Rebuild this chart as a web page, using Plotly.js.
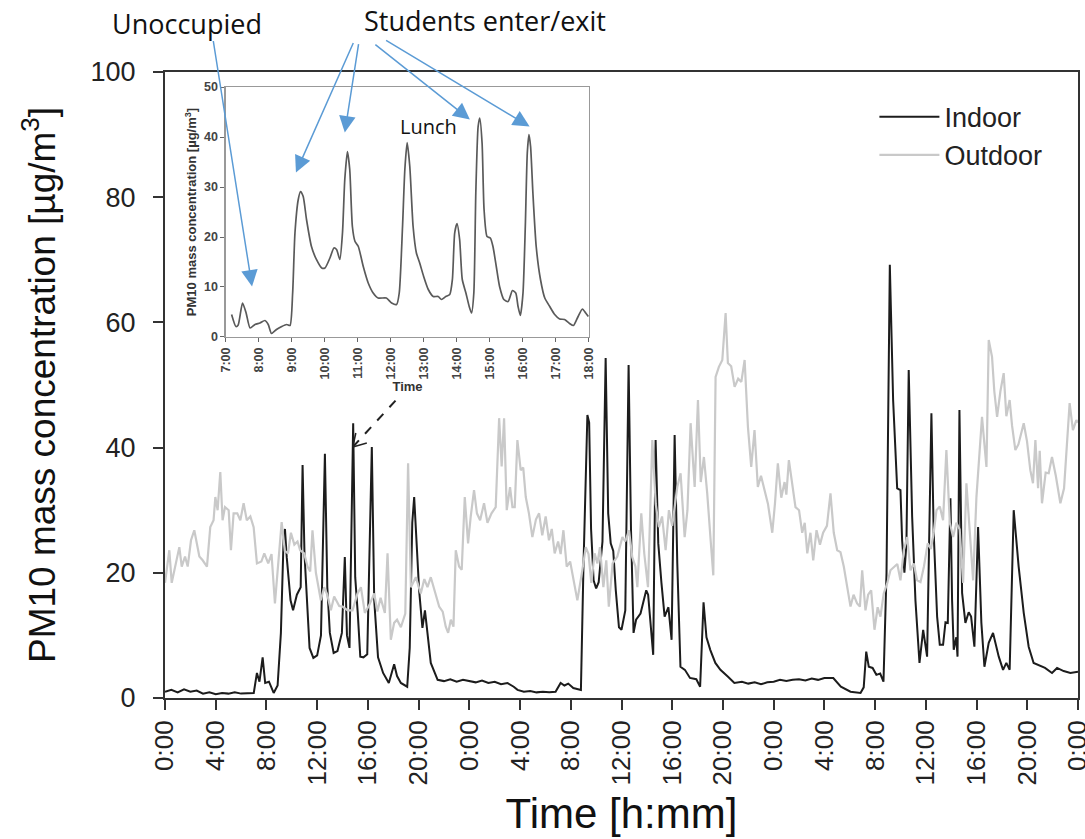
<!DOCTYPE html>
<html>
<head>
<meta charset="utf-8">
<script src="https://cdn.plot.ly/plotly-3.0.1.min.js"></script>
<style>html,body{margin:0;padding:0;background:#fff;}#chart{width:1085px;height:839px;}</style>
</head>
<body>
<div id="chart"></div>
<script>
// ---------- Main chart: three days of PM10 (hours since first midnight) ----------
const indoorHours = [0,0.5,1,1.5,2,2.5,3,3.5,4,4.5,5,5.5,6,6.5,7,7.25,7.45,7.7,7.9,8.2,8.57,8.88,9.14,9.35,9.46,9.6,9.9,10.1,10.4,10.7,10.85,11,11.2,11.4,11.7,12,12.3,12.61,12.8,13,13.3,13.6,13.95,14.18,14.35,14.55,14.84,15,15.2,15.4,15.65,15.95,16.31,16.5,16.8,17.2,17.65,18.07,18.3,18.6,19.1,19.3,19.5,19.65,20.04,20.3,20.5,20.7,20.96,21.5,22,22.5,23,23.5,24,24.5,25,25.5,26,26.5,27,27.5,27.8,28.3,28.8,29.3,29.8,30.3,30.8,31.2,31.5,31.8,32.2,32.8,33,33.31,33.45,33.6,33.8,34,34.2,34.5,34.75,34.95,35.15,35.35,35.55,35.8,36,36.3,36.56,36.75,36.95,37.15,37.5,37.75,37.95,38.1,38.3,38.5,38.69,38.9,39.15,39.4,39.7,39.95,40.19,40.4,40.65,41,41.4,41.9,42.2,42.47,42.7,43,43.4,43.8,44.4,44.9,45.5,46,46.5,47,47.5,48,48.5,49,49.5,50,50.5,51,51.5,52,52.7,53.3,54.06,54.85,55.1,55.3,55.5,55.8,56.1,56.4,56.66,56.9,57.16,57.42,57.74,58,58.13,58.31,58.47,58.65,58.92,59.18,59.5,59.79,60.1,60.44,60.62,60.89,61.1,61.36,61.55,61.73,61.94,62.07,62.2,62.4,62.5,62.65,62.86,63.12,63.38,63.57,63.83,64.12,64.38,64.62,64.96,65.3,65.75,66.09,66.35,66.61,66.93,67.32,67.72,68.11,68.5,68.9,69.4,69.95,70.35,70.87,71.4,72];
const indoorPM10 = [1.0,1.3,0.9,1.4,1.0,1.2,0.7,0.9,0.6,0.8,0.7,0.9,0.7,0.8,0.8,4.0,2.6,6.5,2.4,2.6,0.8,2.0,10.4,25.2,27.0,22.5,15.6,14.0,16.5,17.7,37.2,23,15.6,8.0,6.4,6.8,10,39.0,17.7,10.4,7.2,7.5,10.4,22.5,10,8.0,43.9,19.3,13.6,6.6,6.5,7.0,40.1,15.6,6.5,4.0,2.4,5.4,3.5,2.4,1.8,8,28,32.1,17.2,11.2,14.0,10.4,5.6,2.9,2.7,3.0,2.6,2.9,2.7,2.5,2.8,2.4,2.6,2.2,2.4,1.8,1.3,1.0,1.1,0.9,1.0,0.9,1.0,2.4,2.0,2.3,1.6,1.3,21,45.2,44,27,18.8,17.5,18.5,25,54.3,29.5,24.7,23.5,17.2,11.3,10.9,14,53.2,26.8,10.4,12.5,13.5,15.6,17.2,16.5,11,6.9,41.2,24.7,18.4,13,14.5,9.3,42,21.5,5,4.5,3.2,3.0,1.8,15.3,9.7,7.7,5.6,4.5,3.4,2.4,2.6,2.3,2.5,2.2,2.5,2.6,2.9,2.7,2.9,3.0,2.8,3.1,2.9,3.2,3.2,1.8,1.0,0.8,1.7,7.4,5.0,4.8,3.7,3.9,2.6,20,69.2,47.6,33.5,33.2,25.2,20,24.7,52.4,29,15.6,5.6,10.9,6.6,45.5,26.4,13,8.5,8.5,12.1,12,31.9,15.6,7.7,9.7,6.6,46,16.8,12,13.7,13,8.2,27.3,12,5.0,8.8,10.4,6.6,4.5,5.6,4.5,30,21,13.6,8.2,5.6,5.3,4.8,4.0,4.8,4.3,4.0,4.2];

const outdoorHours = [0,0.34,0.53,0.79,1.13,1.32,1.58,1.79,2.05,2.31,2.5,2.71,2.97,3.31,3.57,3.83,3.97,4.15,4.36,4.54,4.73,5.02,5.2,5.41,5.7,5.94,6.2,6.45,6.73,6.99,7.25,7.6,7.83,8.14,8.4,8.67,8.93,9.2,9.45,9.7,9.93,10.2,10.45,10.66,10.98,11.24,11.45,11.63,11.9,12.29,12.55,12.8,13.08,13.34,13.74,14,14.4,14.79,15.18,15.45,15.76,16.1,16.5,16.75,17,17.34,17.55,17.81,18.07,18.3,18.6,18.95,19.17,19.39,19.78,20.17,20.45,20.7,20.96,21.3,21.62,21.9,22.14,22.33,22.54,22.75,22.93,23.19,23.4,23.64,23.9,24.11,24.37,24.6,24.85,25.16,25.43,25.75,26.08,26.35,26.55,26.74,26.95,27.21,27.4,27.58,27.79,28.05,28.25,28.45,28.7,28.97,29.25,29.5,29.75,30.02,30.28,30.5,30.73,31,31.2,31.42,31.68,31.95,32.2,32.52,32.91,33.18,33.4,33.62,33.88,34.1,34.3,34.57,34.8,35,35.3,35.67,36.07,36.3,36.59,36.85,37.1,37.25,37.56,37.8,38.09,38.43,38.7,38.95,39.2,39.48,39.74,40,40.4,40.66,40.98,41.2,41.45,41.77,42.03,42.25,42.5,42.76,43.03,43.24,43.42,43.68,43.95,44.21,44.39,44.65,44.92,45.2,45.45,45.71,45.97,46.23,46.49,46.75,47,47.28,47.55,47.89,48.1,48.33,48.6,48.86,49,49.2,49.45,49.72,50,50.25,50.45,50.65,50.9,51.12,51.38,51.65,51.9,52.2,52.48,52.74,53.01,53.27,53.53,53.8,54.06,54.3,54.58,54.8,54.98,55.24,55.45,55.69,55.95,56.2,56.42,56.68,56.95,57.21,57.53,57.75,58,58.26,58.53,58.79,59.05,59.31,59.58,59.85,60.15,60.4,60.62,60.84,61.1,61.36,61.62,61.89,62.15,62.41,62.67,62.94,63.2,63.47,63.73,63.99,64.25,64.43,64.6,64.78,64.96,65.22,65.4,65.62,65.88,66.14,66.35,66.61,66.8,67.06,67.3,67.72,67.98,68.24,68.45,68.64,68.85,68.98,69.16,69.45,69.69,69.95,70.25,70.61,70.9,71.13,71.34,71.6,71.87,72];
const outdoorPM10 = [18.4,23.6,18.4,21,24.1,21,22.6,21,25.2,26.8,25,22.6,22,21,27.3,28.4,32.1,30,36.1,28.4,30.5,30,23.6,29.5,29.5,28.4,31.1,28.4,29,27.3,21.5,21.8,23.1,21.5,23,15.1,21.5,28.1,23.5,23.1,26.4,24.5,25,23.6,23.1,21,20.2,26.8,20,15.6,17.7,16.5,14,16.2,14.7,14.6,14,14,16.7,17.7,13.6,14.8,16.7,13.8,16,13.6,23.1,9.3,12,12.5,11.3,13.5,37.5,17.7,19.3,16.7,19,17.7,19.3,16.7,14.6,13.8,11.4,10.4,12.5,11.4,23.6,21,20.5,32.1,24.7,29,33.2,29.5,28.4,31.1,28,29.5,30.5,44.7,37,44.7,30,33.7,30.5,30.5,41.2,36.4,36.8,32.1,29.5,25.7,28.5,29.5,26,29,25.2,27,23.1,25,23,26.8,21,21.8,19.3,15.6,20.4,24.1,23,18.4,23.1,21.5,24.1,17.7,22,14.6,21.5,22.6,25.7,25,26.8,22.5,21,17.7,29.5,23,17.7,41.2,31,27.3,29,23.6,30,27.5,33.7,35.9,25.7,30,43.9,33.7,47.6,34.5,38.5,32.7,25.2,19.6,51.3,52.9,54,61.5,53.5,53,49.7,51,50.5,54,43.3,36.9,42.8,33.7,35.5,33.2,31,26.4,31,37.5,32,34.5,32.5,38,34.5,30.5,30,26.4,28,23.1,26.4,22,26.8,24.5,26.4,27.5,32.7,26.4,23.6,23.3,21,17.7,14.6,16.5,15.1,14.6,20.4,14,16.5,17.2,10.9,14.5,13,16.7,18.3,20.4,21,21.4,18.8,23.6,25.7,20.4,21.5,18.8,18.5,21,24.7,23.8,26.4,30,30.6,28.4,39.6,28,25.7,28,26.9,18.4,34.3,26.4,18.8,32.1,40.7,44.9,41,36.9,57.2,54.5,49,44.9,49,51.9,45,47.6,43.5,39.6,40.5,43.9,41,36.4,34.3,41.2,33.5,39.5,31.1,36,35.9,38.5,35.5,31.1,33.5,41.7,47.1,42.8,44.4,44];

// ---------- Inset: indoor, first school day 7:00-18:00 ----------
const insetHours = [7.17,7.30,7.37,7.50,7.61,7.73,7.88,8.03,8.18,8.28,8.38,8.53,8.69,8.84,8.94,9.02,9.09,9.19,9.26,9.34,9.44,9.59,9.74,9.90,10.0,10.15,10.27,10.35,10.45,10.53,10.60,10.68,10.75,10.83,10.91,11.01,11.16,11.31,11.46,11.61,11.86,12.02,12.17,12.25,12.35,12.42,12.49,12.57,12.67,12.77,12.87,12.99,13.13,13.28,13.43,13.53,13.66,13.78,13.86,13.93,14.00,14.08,14.16,14.27,14.37,14.44,14.51,14.57,14.64,14.69,14.76,14.82,14.91,15.01,15.09,15.19,15.29,15.42,15.55,15.68,15.78,15.85,15.92,16.0,16.07,16.13,16.18,16.23,16.30,16.40,16.53,16.66,16.81,16.96,17.11,17.26,17.41,17.53,17.67,17.80,17.90,17.98];
const insetPM10 = [4.5,2.1,2.4,6.8,4.8,1.8,2.5,2.8,3.3,2.5,0.7,1.5,2.1,2.5,2.3,8.8,20.8,27.5,29.1,28.1,23.5,18.1,15.5,13.8,13.8,15.8,17.8,17.5,15.5,20.8,31.5,37.1,33.5,22.1,19.1,18.1,14.1,10.8,8.8,7.8,7.8,6.8,6.5,8.8,22.1,33.5,38.9,34.1,22.1,16.8,14.8,12.1,9.5,8.1,8.1,7.5,8.1,8.5,11.5,20.8,22.7,19.5,11.5,8.8,6.1,4.8,8.8,28.8,42.1,43.8,38.8,25.5,20.1,19.8,18.1,14.1,10.1,7.5,7.1,9.3,8.8,6.1,4.3,8.8,22.1,36.8,40.5,38.1,28.8,18.1,11.5,7.8,6.1,4.5,3.6,3.5,2.7,2.3,4.1,5.6,4.8,4.1];

// ---------- Tick labels ----------
const mainTickHours = [0,4,8,12,16,20,24,28,32,36,40,44,48,52,56,60,64,68,72];
const mainTickLabels = ["0:00","4:00","8:00","12:00","16:00","20:00","0:00","4:00","8:00","12:00","16:00","20:00","0:00","4:00","8:00","12:00","16:00","20:00","0:00"];
const mainYTicks = [0,20,40,60,80,100];
const insetTickHours = [7,8,9,10,11,12,13,14,15,16,17,18];
const insetTickLabels = ["7:00","8:00","9:00","10:00","11:00","12:00","13:00","14:00","15:00","16:00","17:00","18:00"];
const insetYTicks = [0,10,20,30,40,50];

// Annotated inset events: [hour, value] the arrows point at
const unoccupiedPoint = [7.79, 10.1];
const enterExitPoints = [[9.12, 32.9], [10.6, 40.9], [14.39, 43.5], [16.2, 42.1]];
const lunchPoint = [13.15, 42.1];
const insetLinkPoint = [14.81, 40.1]; // main-chart peak the dashed arrow points to

const FONT = "Liberation Sans, Arial, sans-serif";
const NOTE_FONT = "Open Sans, Noto Sans, sans-serif";
const BLUE = "#5B9BD5";

const traces = [
  {x: indoorHours, y: indoorPM10, type: "scatter", mode: "lines", name: "Indoor",
   line: {color: "#1c1c1c", width: 2}, xaxis: "x", yaxis: "y"},
  {x: outdoorHours, y: outdoorPM10, type: "scatter", mode: "lines", name: "Outdoor",
   line: {color: "#c9c9c9", width: 2.2}, xaxis: "x", yaxis: "y"},
  {x: insetHours, y: insetPM10, type: "scatter", mode: "lines", name: "Indoor (detail)",
   showlegend: false, line: {color: "#5a5a5a", width: 1.7, shape: "spline", smoothing: 0.6},
   xaxis: "x2", yaxis: "y2"}
];

// tails of blue arrows (pixel offsets from tips)
const enterExitTails = [[58, -131], [14, -90], [-96, -76], [-145, -87]];

const annotations = [
  {xref: "paper", yref: "paper", x: 0.024, y: 1.077, xanchor: "center", yanchor: "middle",
   text: "Unoccupied", showarrow: false, font: {family: NOTE_FONT, size: 27, color: "#111"}},
  {xref: "paper", yref: "paper", x: 0.351, y: 1.083, xanchor: "center", yanchor: "middle",
   text: "Students enter/exit", showarrow: false, font: {family: NOTE_FONT, size: 27, color: "#111"}},
  {xref: "x2", yref: "y2", x: lunchPoint[0], y: lunchPoint[1], xanchor: "center", yanchor: "middle",
   text: "Lunch", showarrow: false, font: {family: NOTE_FONT, size: 20, color: "#111"}},
  {xref: "x2", yref: "y2", x: unoccupiedPoint[0], y: unoccupiedPoint[1], text: "", showarrow: true,
   ax: -39, ay: -247, arrowhead: 2, arrowsize: 2.2, arrowwidth: 1.5, arrowcolor: BLUE}
];
enterExitPoints.forEach((p, i) => {
  annotations.push({xref: "x2", yref: "y2", x: p[0], y: p[1], text: "", showarrow: true,
    ax: enterExitTails[i][0], ay: enterExitTails[i][1], arrowhead: 2, arrowsize: 2.2,
    arrowwidth: 1.5, arrowcolor: BLUE});
});

const shapes = [
  {type: "line", xref: "x", yref: "y", xsizemode: "pixel", ysizemode: "pixel",
   xanchor: insetLinkPoint[0], yanchor: insetLinkPoint[1], x0: 0, y0: 0, x1: 48, y1: 52,
   line: {color: "#222", width: 2, dash: "dash"}},
  {type: "line", xref: "x", yref: "y", xsizemode: "pixel", ysizemode: "pixel",
   xanchor: insetLinkPoint[0], yanchor: insetLinkPoint[1], x0: 0, y0: 0, x1: 3, y1: 14,
   line: {color: "#222", width: 1.5}},
  {type: "line", xref: "x", yref: "y", xsizemode: "pixel", ysizemode: "pixel",
   xanchor: insetLinkPoint[0], yanchor: insetLinkPoint[1], x0: 0, y0: 0, x1: 14, y1: 4,
   line: {color: "#222", width: 1.5}}
];

const layout = {
  width: 1085, height: 839,
  margin: {l: 165, r: 7, t: 72, b: 141},
  paper_bgcolor: "#fff", plot_bgcolor: "#fff",
  font: {family: FONT, color: "#222"},
  showlegend: true,
  legend: {x: 0.777, y: 0.967, xanchor: "left", yanchor: "top", bgcolor: "rgba(0,0,0,0)",
    font: {family: FONT, size: 27, color: "#222"}, itemwidth: 60},
  xaxis: {domain: [0, 1], range: [0, 72], tickmode: "array", tickvals: mainTickHours, ticktext: mainTickLabels,
    tickangle: -90, ticks: "outside", ticklen: 10, tickwidth: 2, tickcolor: "#333", ticklabeloverflow: "allow",
    showline: true, linewidth: 2, linecolor: "#333", mirror: true, showgrid: false, zeroline: false,
    tickfont: {family: FONT, size: 26, color: "#222"},
    title: {text: "Time [h:mm]", font: {family: FONT, size: 42, color: "#111"}, standoff: 14}},
  yaxis: {domain: [0, 1], range: [0, 100], tickmode: "array", tickvals: mainYTicks,
    ticks: "outside", ticklen: 10, tickwidth: 2, tickcolor: "#333", ticklabelstandoff: 12,
    showline: true, linewidth: 2, linecolor: "#333", mirror: true, showgrid: false, zeroline: false,
    tickfont: {family: FONT, size: 27, color: "#222"},
    title: {text: "PM10 mass concentration [µg/m<sup>3</sup>]", font: {family: FONT, size: 37, color: "#111"}, standoff: 24}},
  xaxis2: {domain: [0.0668, 0.4644], anchor: "y2", range: [7, 18], tickmode: "array",
    tickvals: insetTickHours, ticktext: insetTickLabels, tickangle: -90,
    ticks: "outside", ticklen: 4, tickcolor: "#666", showline: true, linewidth: 1.5, linecolor: "#999",
    mirror: true, showgrid: false, zeroline: false,
    tickfont: {family: FONT, size: 12.5, color: "#444", weight: "bold"},
    title: {text: "Time", font: {family: FONT, size: 13, color: "#333", weight: "bold"}, standoff: 2}},
  yaxis2: {domain: [0.5767, 0.976], anchor: "x2", range: [0, 50], tickmode: "array", tickvals: insetYTicks,
    ticks: "outside", ticklen: 4, tickcolor: "#666", showline: true, linewidth: 1.5, linecolor: "#999",
    mirror: true, showgrid: false, zeroline: false,
    tickfont: {family: FONT, size: 12.5, color: "#444", weight: "bold"},
    title: {text: "PM10 mass concentration [µg/m<sup>3</sup>]", font: {family: FONT, size: 13, color: "#333", weight: "bold"}, standoff: 4}},
  annotations: annotations,
  shapes: shapes
};

Plotly.newPlot("chart", traces, layout, {staticPlot: true, displayModeBar: false});
</script>
</body>
</html>
